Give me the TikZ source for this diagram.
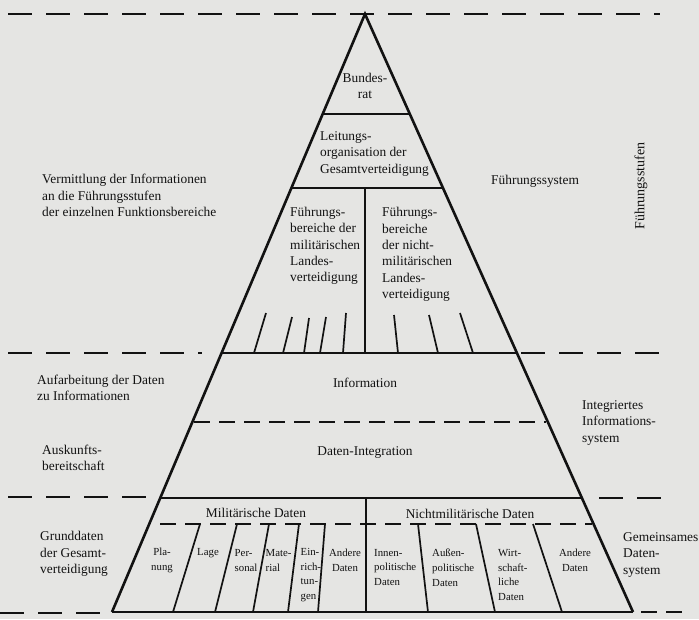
\documentclass[tikz,border=0pt]{standalone}
\usepackage{fontspec}
\setmainfont{Liberation Serif}
\definecolor{bg}{RGB}{229,229,227}
\definecolor{ink}{RGB}{18,18,18}
\begin{document}
\begin{tikzpicture}[x=1pt,y=-1pt,
  edge/.style={line width=2.6pt, draw=ink},
  sepline/.style={line width=1.7pt, draw=ink},
  outdash/.style={line width=1.8pt, draw=ink, dash pattern=on 24pt off 14pt},
  indash/.style={line width=1.6pt, draw=ink, dash pattern=on 16pt off 9pt},
  tickline/.style={line width=1.7pt, draw=ink},
  lbl/.style={inner sep=0pt, font=\fontsize{13.4}{16.3}\selectfont, text=ink},
  sml/.style={inner sep=0pt, font=\fontsize{10.8}{14.8}\selectfont, text=ink},
]
\fill[bg] (0,0) rectangle (699,619);
\useasboundingbox (0,0) rectangle (699,619);

% key points
\coordinate (apex) at (365,14);
\coordinate (bl) at (112,612);
\coordinate (br) at (633,612);
\coordinate (a1) at (322.7,114); \coordinate (b1) at (409.8,114);
\coordinate (a2) at (291.4,188); \coordinate (b2) at (443.0,188);
\coordinate (a3) at (221.6,353); \coordinate (b3) at (516.9,353);
\coordinate (a4) at (194.4,422); \coordinate (b4) at (545.9,422);
\coordinate (a5) at (160.2,498); \coordinate (b5) at (581.9,498);
\coordinate (a6) at (160.0,524); \coordinate (b6) at (592.0,524);
\coordinate (v1t) at (365,188); \coordinate (v1b) at (365,353);
\coordinate (v2t) at (366,498); \coordinate (v2b) at (366,612);

% outer dashed lines
\coordinate (d0l) at (8,14);   \coordinate (d0r) at (660,14);
\coordinate (d3l) at (8,353);  \coordinate (d3le) at (202,353);
\coordinate (d3r) at (521,353); \coordinate (d3re) at (660,353);
\coordinate (d5l) at (8,497);  \coordinate (d5le) at (154,497);
\coordinate (d5r) at (599,498); \coordinate (d5re) at (675,498);
\coordinate (d7l) at (0,613);  \coordinate (d7le) at (106,613);
\coordinate (d7r) at (641,612); \coordinate (d7re) at (682,612);
\draw[outdash] (d0l) -- (d0r);
\draw[outdash] (d3l) -- (d3le);
\draw[outdash] (d3r) -- (d3re);
\draw[outdash] (d5l) -- (d5le);
\draw[outdash] (d5r) -- (d5re);
\draw[outdash] (d7l) -- (d7le);
\draw[outdash, dash pattern=on 16pt off 9pt] (d7r) -- (d7re);

% inner solid separators
\draw[sepline] (a1) -- (b1);
\draw[sepline] (a2) -- (b2);
\draw[sepline] (a3) -- (b3);
\draw[sepline] (a5) -- (b5);
\draw[sepline] (v1t) -- (v1b);
\draw[sepline] (v2t) -- (v2b);

% inner dashed lines
\draw[indash] (a4) -- (b4);
\draw[indash] (a6) -- (b6);

% ticks in the Fuehrung area
\foreach \xa/\ya/\xb/\yb [count=\i] in {266/313/254/353, 292/317/283/353, 309/318/304/353, 326/317/320/353, 346/313/343/353, 394/315/398/353, 429/315/438/353, 460/313/473/353}{
  \coordinate (t\i a) at (\xa,\ya); \coordinate (t\i b) at (\xb,\yb);
  \draw[tickline] (t\i a) -- (t\i b);
}

% dividers in the data area
\foreach \xa/\xb [count=\i] in {200/173, 237/215, 269/253, 299/288, 325/318, 418/428, 476/495, 533/562}{
  \coordinate (p\i a) at (\xa,524); \coordinate (p\i b) at (\xb,612);
  \draw[tickline] (p\i a) -- (p\i b);
}

% triangle edges
\draw[edge] (bl) -- (apex) -- (br);
\draw[edge, line width=2.4pt] (bl) -- (br);

% texts inside the pyramid
\node[lbl, align=center] (bundesrat) at (365,86) {Bundes-\\rat};
\node[lbl, align=left, anchor=west] (leitung) at (320,154) {Leitungs-\\organisation der\\Gesamtverteidigung};
\node[lbl, align=left, anchor=west] (fmil) at (290,246) {Führungs-\\bereiche der\\militärischen\\Landes-\\verteidigung};
\node[lbl, align=left, anchor=west] (fnmil) at (382,254.5) {Führungs-\\bereiche\\der nicht-\\militärischen\\Landes-\\verteidigung};
\node[lbl] (information) at (365,383) {Information};
\node[lbl] (integration) at (365,453) {Daten-Integration};
\node[lbl] (mildaten) at (256,513) {Militärische Daten};
\node[lbl] (nmildaten) at (470,514) {Nichtmilitärische Daten};

% small labels
\node[sml, align=center] (planung) at (162,560.5) {Pla-\\nung};
\node[sml] (lage) at (208,553) {Lage};
\node[sml, align=left, anchor=west] (personal) at (234.5,560.5) {Per-\\sonal};
\node[sml, align=left, anchor=west] (material) at (265.5,560.5) {Mate-\\rial};
\node[sml, align=left, anchor=west] (einricht) at (300.5,575) {Ein-\\rich-\\tun-\\gen};
\node[sml, align=center] (andere1) at (345,560.5) {Andere\\Daten};
\node[sml, align=left, anchor=west] (innen) at (374,567.5) {Innen-\\politische\\Daten};
\node[sml, align=left, anchor=west] (aussen) at (432,567.5) {Außen-\\politische\\Daten};
\node[sml, align=left, anchor=west] (wirt) at (498,575) {Wirt-\\schaft-\\liche\\Daten};
\node[sml, align=center] (andere2) at (575,560.5) {Andere\\Daten};

% outer texts
\node[lbl, align=left, anchor=west] (vermittlung) at (42,195.5) {Vermittlung der Informationen\\an die Führungsstufen\\der einzelnen Funktionsbereiche};
\node[lbl, anchor=west] (fsystem) at (491,181) {Führungssystem};
\node[lbl, rotate=90, font=\fontsize{14}{16}\selectfont] (fstufen) at (641,186) {Führungsstufen};
\node[lbl, align=left, anchor=west] (aufarb) at (37,387.5) {Aufarbeitung der Daten\\zu Informationen};
\node[lbl, align=left, anchor=west] (auskunft) at (42,457.5) {Auskunfts-\\bereitschaft};
\node[lbl, align=left, anchor=west] (integr) at (582,423) {Integriertes\\Informations-\\system};
\node[lbl, align=left, anchor=west] (grund) at (40,554) {Grunddaten\\der Gesamt-\\verteidigung};
\node[lbl, align=left, anchor=west] (gemein) at (623,555) {Gemeinsames\\Daten-\\system};
\end{tikzpicture}
\end{document}
